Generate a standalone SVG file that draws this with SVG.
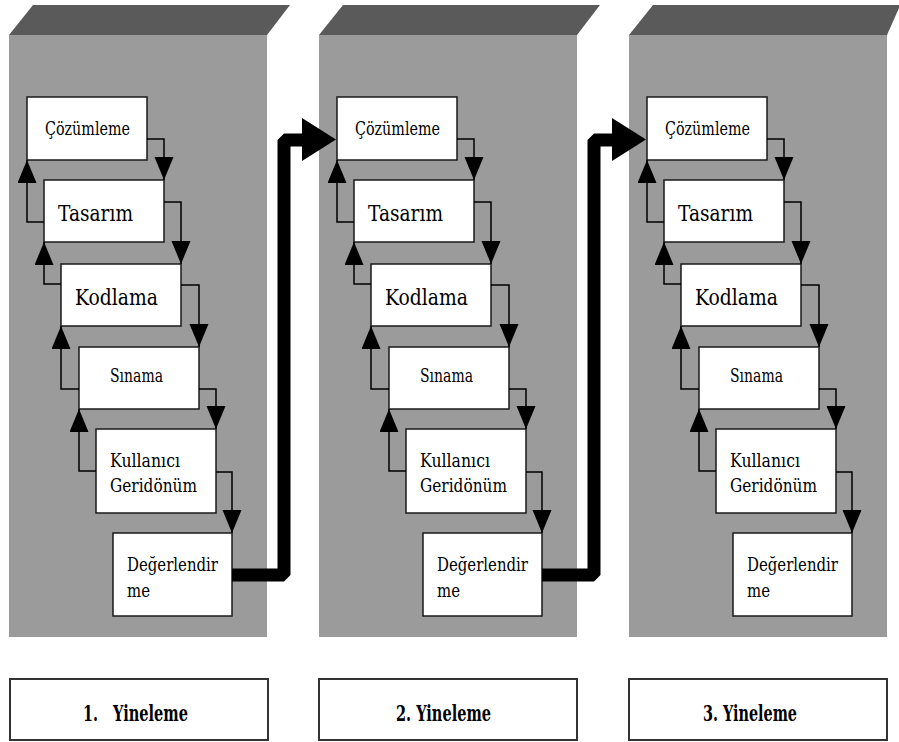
<svg xmlns="http://www.w3.org/2000/svg" width="899" height="742" viewBox="0 0 899 742">
<style>
.front{fill:#9b9b9b}
.top{fill:#5a5a5a}
.box{fill:#fff;stroke:#1a1a1a;stroke-width:1.5}
.lbl{fill:#fff;stroke:#333;stroke-width:2}
.txt{font-family:"DejaVu Serif","Liberation Serif",serif}
.t{fill:#000}
.b{font-weight:bold;fill:#000;font-size:22px}
.ln{fill:none;stroke:#000;stroke-width:1.5;marker-end:url(#ah)}
.thick{fill:none;stroke:#000;stroke-width:13;stroke-linejoin:bevel}
</style>
<defs>
<marker id="ah" markerUnits="userSpaceOnUse" markerWidth="24" markerHeight="20" refX="23" refY="9.5" orient="auto">
<path d="M0,0 L23,9.5 L0,19 z" fill="#000"/>
</marker>
</defs>

<g id="column1">
<polygon class="top" points="9,35 33,5 290,5 267,35"/>
<rect class="front" x="9" y="35" width="258" height="602"/>
</g>
<g id="column2">
<polygon class="top" points="319,35 343,5 600,5 577,35"/>
<rect class="front" x="319" y="35" width="258" height="602"/>
</g>
<g id="column3">
<polygon class="top" points="629,35 653,5 899,5 899,8 887,35"/>
<rect class="front" x="629" y="35" width="258" height="602"/>
</g>

<g class="txt">
<!-- Column 1 nodes -->
<g id="c1-cozumleme"><rect class="box" x="27" y="97" width="120" height="63"/><text class="t" x="45" y="135" font-size="18" textLength="85" lengthAdjust="spacingAndGlyphs">Çözümleme</text></g>
<g id="c1-tasarim"><rect class="box" x="44" y="180" width="120" height="62"/><text class="t" x="58" y="221" font-size="22" textLength="75" lengthAdjust="spacingAndGlyphs">Tasarım</text></g>
<g id="c1-kodlama"><rect class="box" x="61" y="264" width="120" height="62"/><text class="t" x="75" y="305" font-size="22" textLength="83" lengthAdjust="spacingAndGlyphs">Kodlama</text></g>
<g id="c1-sinama"><rect class="box" x="79" y="347" width="120" height="62"/><text class="t" x="110" y="382" font-size="18" textLength="53" lengthAdjust="spacingAndGlyphs">Sınama</text></g>
<g id="c1-kullanici"><rect class="box" x="96" y="429" width="120" height="84"/><text class="t" x="110" y="467" font-size="19" textLength="70" lengthAdjust="spacingAndGlyphs">Kullanıcı</text><text class="t" x="110" y="492" font-size="19" textLength="87" lengthAdjust="spacingAndGlyphs">Geridönüm</text></g>
<g id="c1-degerlendirme"><rect class="box" x="113" y="533" width="119" height="83"/><text class="t" x="127" y="571" font-size="19" textLength="91" lengthAdjust="spacingAndGlyphs">Değerlendir</text><text class="t" x="127" y="597" font-size="19" textLength="23" lengthAdjust="spacingAndGlyphs">me</text></g>

<!-- Column 2 nodes -->
<g id="c2-cozumleme"><rect class="box" x="337" y="97" width="120" height="63"/><text class="t" x="355" y="135" font-size="18" textLength="85" lengthAdjust="spacingAndGlyphs">Çözümleme</text></g>
<g id="c2-tasarim"><rect class="box" x="354" y="180" width="120" height="62"/><text class="t" x="368" y="221" font-size="22" textLength="75" lengthAdjust="spacingAndGlyphs">Tasarım</text></g>
<g id="c2-kodlama"><rect class="box" x="371" y="264" width="120" height="62"/><text class="t" x="385" y="305" font-size="22" textLength="83" lengthAdjust="spacingAndGlyphs">Kodlama</text></g>
<g id="c2-sinama"><rect class="box" x="389" y="347" width="120" height="62"/><text class="t" x="420" y="382" font-size="18" textLength="53" lengthAdjust="spacingAndGlyphs">Sınama</text></g>
<g id="c2-kullanici"><rect class="box" x="406" y="429" width="120" height="84"/><text class="t" x="420" y="467" font-size="19" textLength="70" lengthAdjust="spacingAndGlyphs">Kullanıcı</text><text class="t" x="420" y="492" font-size="19" textLength="87" lengthAdjust="spacingAndGlyphs">Geridönüm</text></g>
<g id="c2-degerlendirme"><rect class="box" x="423" y="533" width="119" height="83"/><text class="t" x="437" y="571" font-size="19" textLength="91" lengthAdjust="spacingAndGlyphs">Değerlendir</text><text class="t" x="437" y="597" font-size="19" textLength="23" lengthAdjust="spacingAndGlyphs">me</text></g>

<!-- Column 3 nodes -->
<g id="c3-cozumleme"><rect class="box" x="647" y="97" width="120" height="63"/><text class="t" x="665" y="135" font-size="18" textLength="85" lengthAdjust="spacingAndGlyphs">Çözümleme</text></g>
<g id="c3-tasarim"><rect class="box" x="664" y="180" width="120" height="62"/><text class="t" x="678" y="221" font-size="22" textLength="75" lengthAdjust="spacingAndGlyphs">Tasarım</text></g>
<g id="c3-kodlama"><rect class="box" x="681" y="264" width="120" height="62"/><text class="t" x="695" y="305" font-size="22" textLength="83" lengthAdjust="spacingAndGlyphs">Kodlama</text></g>
<g id="c3-sinama"><rect class="box" x="699" y="347" width="120" height="62"/><text class="t" x="730" y="382" font-size="18" textLength="53" lengthAdjust="spacingAndGlyphs">Sınama</text></g>
<g id="c3-kullanici"><rect class="box" x="716" y="429" width="120" height="84"/><text class="t" x="730" y="467" font-size="19" textLength="70" lengthAdjust="spacingAndGlyphs">Kullanıcı</text><text class="t" x="730" y="492" font-size="19" textLength="87" lengthAdjust="spacingAndGlyphs">Geridönüm</text></g>
<g id="c3-degerlendirme"><rect class="box" x="733" y="533" width="119" height="83"/><text class="t" x="747" y="571" font-size="19" textLength="91" lengthAdjust="spacingAndGlyphs">Değerlendir</text><text class="t" x="747" y="597" font-size="19" textLength="23" lengthAdjust="spacingAndGlyphs">me</text></g>
</g>

<g id="connectors">
<path class="ln" d="M147,139 H164 V180"/>
<path class="ln" d="M164,202 H181 V264"/>
<path class="ln" d="M181,285 H199 V347"/>
<path class="ln" d="M199,389 H216 V429"/>
<path class="ln" d="M216,472 H232 V533"/>
<path class="ln" d="M44,222 H27 V160"/>
<path class="ln" d="M61,284 H44 V242"/>
<path class="ln" d="M79,389 H61 V326"/>
<path class="ln" d="M96,471 H79 V409"/>
<path class="ln" d="M457,139 H474 V180"/>
<path class="ln" d="M474,202 H491 V264"/>
<path class="ln" d="M491,285 H509 V347"/>
<path class="ln" d="M509,389 H526 V429"/>
<path class="ln" d="M526,472 H542 V533"/>
<path class="ln" d="M354,222 H337 V160"/>
<path class="ln" d="M371,284 H354 V242"/>
<path class="ln" d="M389,389 H371 V326"/>
<path class="ln" d="M406,471 H389 V409"/>
<path class="ln" d="M767,139 H784 V180"/>
<path class="ln" d="M784,202 H801 V264"/>
<path class="ln" d="M801,285 H819 V347"/>
<path class="ln" d="M819,389 H836 V429"/>
<path class="ln" d="M836,472 H852 V533"/>
<path class="ln" d="M664,222 H647 V160"/>
<path class="ln" d="M681,284 H664 V242"/>
<path class="ln" d="M699,389 H681 V326"/>
<path class="ln" d="M716,471 H699 V409"/>
<path class="thick" d="M232,575 H284 V140 H304"/>
<polygon points="302,118 336,139.5 302,161" fill="#000"/>
<path class="thick" d="M542,575 H594 V140 H614"/>
<polygon points="612,118 646,139.5 612,161" fill="#000"/>
</g>

<g class="txt">
<g id="label1"><rect class="lbl" x="10" y="679" width="258" height="61"/><text class="b" x="83" y="721" textLength="15" lengthAdjust="spacingAndGlyphs">1.</text><text class="b" x="113" y="721" textLength="75" lengthAdjust="spacingAndGlyphs">Yineleme</text></g>
<g id="label2"><rect class="lbl" x="319" y="679" width="258" height="61"/><text class="b" x="396" y="721" textLength="95" lengthAdjust="spacingAndGlyphs">2. Yineleme</text></g>
<g id="label3"><rect class="lbl" x="629" y="679" width="258" height="61"/><text class="b" x="703" y="721" textLength="94" lengthAdjust="spacingAndGlyphs">3. Yineleme</text></g>
</g>
</svg>
